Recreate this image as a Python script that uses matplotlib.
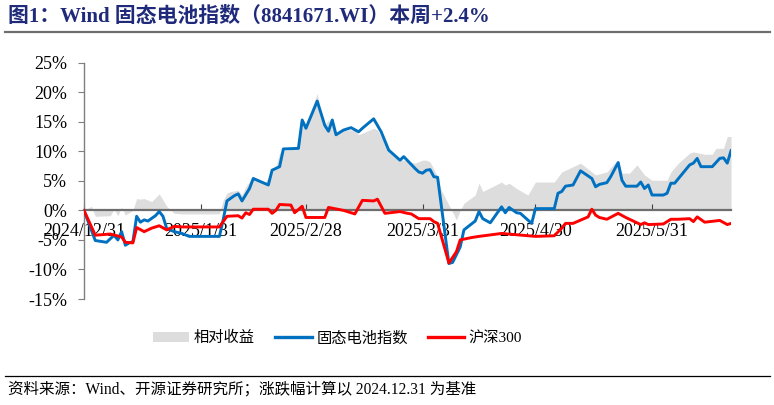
import matplotlib

matplotlib.use("Agg")
import matplotlib.pyplot as plt
import pandas as pd
from matplotlib.lines import Line2D
from matplotlib.patches import Patch

SERIF_CJK = ["Liberation Serif", "Noto Sans CJK SC"]
plt.rcParams["font.family"] = SERIF_CJK

TITLE = "图1：Wind 固态电池指数（8841671.WI）本周+2.4%"
SOURCE = "资料来源：Wind、开源证券研究所；涨跌幅计算以 2024.12.31 为基准"

# 固态电池指数 (%)
idx_dates = [
    "2024-12-31", "2025-01-03", "2025-01-06", "2025-01-08", "2025-01-09", "2025-01-10",
    "2025-01-11", "2025-01-12", "2025-01-13", "2025-01-14", "2025-01-15", "2025-01-16",
    "2025-01-17", "2025-01-19", "2025-01-20", "2025-01-21", "2025-01-22", "2025-01-24",
    "2025-01-26", "2025-01-28", "2025-02-05", "2025-02-06", "2025-02-07", "2025-02-09",
    "2025-02-10", "2025-02-11", "2025-02-13", "2025-02-14", "2025-02-18", "2025-02-19",
    "2025-02-21", "2025-02-22", "2025-02-26", "2025-02-27", "2025-02-28", "2025-03-03",
    "2025-03-05", "2025-03-06", "2025-03-07", "2025-03-08", "2025-03-10", "2025-03-12",
    "2025-03-14", "2025-03-15", "2025-03-18", "2025-03-20", "2025-03-22", "2025-03-25",
    "2025-03-26", "2025-03-29", "2025-03-30", "2025-03-31", "2025-04-01", "2025-04-02",
    "2025-04-03", "2025-04-04", "2025-04-07", "2025-04-08", "2025-04-10", "2025-04-11",
    "2025-04-14", "2025-04-15", "2025-04-16", "2025-04-18", "2025-04-21", "2025-04-22",
    "2025-04-23", "2025-04-25", "2025-04-26", "2025-04-29", "2025-04-30", "2025-05-05",
    "2025-05-06", "2025-05-07", "2025-05-08", "2025-05-10", "2025-05-12", "2025-05-15",
    "2025-05-16", "2025-05-17", "2025-05-19", "2025-05-20", "2025-05-22", "2025-05-23",
    "2025-05-24", "2025-05-27", "2025-05-28", "2025-05-29", "2025-05-30", "2025-05-31",
    "2025-06-03", "2025-06-04", "2025-06-05", "2025-06-06", "2025-06-10", "2025-06-11",
    "2025-06-12", "2025-06-13", "2025-06-16", "2025-06-18", "2025-06-19", "2025-06-20",
    "2025-06-21",
]
idx_vals = [
    0.0, -5.1, -5.4, -4.2, -5.0, -3.6,
    -5.9, -5.5, -5.3, -1.0, -2.0, -1.6,
    -1.8, -0.9, -0.2, -1.0, -3.1, -3.6,
    -3.9, -4.4, -4.4, -1.6, 1.6, 2.5,
    2.8, 1.6, 3.7, 5.4, 4.3, 6.8,
    7.4, 10.4, 10.5, 15.3, 13.9, 18.5,
    14.4, 13.4, 15.3, 12.8, 13.6, 14.0,
    13.3, 13.9, 15.5, 13.3, 10.2, 8.5,
    9.1, 7.1, 6.5, 6.3, 6.8, 6.9,
    5.7, 5.6, -9.0, -8.8, -6.2, -3.3,
    -1.8, -0.2, -1.4, -2.1, 0.6, -0.4,
    0.5, -0.4, -0.5, -2.2, 0.3, 0.3,
    2.9, 3.2, 4.1, 4.3, 6.7, 5.4,
    4.0, 4.4, 4.7, 5.7, 8.1, 5.1,
    4.1, 4.1, 4.8, 3.7, 4.3, 2.6,
    2.6, 2.9, 4.6, 4.6, 7.7, 8.0,
    8.8, 7.4, 7.4, 8.8, 8.9, 8.0,
    10.1,
]

# 沪深300 (%)
hs_dates = [
    "2024-12-31", "2025-01-03", "2025-01-07", "2025-01-10", "2025-01-11", "2025-01-13",
    "2025-01-14", "2025-01-16", "2025-01-18", "2025-01-20", "2025-01-22", "2025-01-24",
    "2025-01-26", "2025-02-05", "2025-02-07", "2025-02-10", "2025-02-11", "2025-02-12",
    "2025-02-13", "2025-02-14", "2025-02-18", "2025-02-19", "2025-02-20", "2025-02-21",
    "2025-02-24", "2025-02-25", "2025-02-27", "2025-02-28", "2025-03-05", "2025-03-06",
    "2025-03-10", "2025-03-13", "2025-03-15", "2025-03-18", "2025-03-19", "2025-03-21",
    "2025-03-25", "2025-03-27", "2025-03-28", "2025-03-30", "2025-04-02", "2025-04-03",
    "2025-04-04", "2025-04-07", "2025-04-09", "2025-04-10", "2025-04-13", "2025-04-15",
    "2025-04-21", "2025-04-30", "2025-05-05", "2025-05-07", "2025-05-08", "2025-05-10",
    "2025-05-14", "2025-05-15", "2025-05-16", "2025-05-17", "2025-05-19", "2025-05-22",
    "2025-05-24", "2025-05-26", "2025-05-28", "2025-05-29", "2025-05-30", "2025-06-03",
    "2025-06-05", "2025-06-07", "2025-06-10", "2025-06-11", "2025-06-12", "2025-06-14",
    "2025-06-18", "2025-06-20", "2025-06-21",
]
hs_vals = [
    0.0, -4.2, -4.0, -4.5, -5.4, -5.5,
    -2.9, -3.6, -3.0, -2.6, -3.3, -2.7,
    -2.8, -2.8, -1.0, -0.9, -1.3, -0.4,
    -0.7, 0.2, 0.2, -0.5, 0.0, 1.0,
    0.9, -0.4, 0.7, -1.2, -1.2, 0.5,
    0.0, -0.6, 1.7, 1.6, 1.9, -0.5,
    -0.2, -0.5, -0.6, -1.4, -1.4, -1.9,
    -2.2, -8.9, -7.0, -5.0, -4.6, -4.4,
    -3.9, -4.4, -4.3, -3.0, -2.2, -2.2,
    -1.1, 0.2, -0.8, -1.2, -1.5, -0.5,
    -1.2, -1.8, -2.4, -2.1, -2.4, -2.3,
    -1.5, -1.5, -1.4, -1.9, -1.1, -2.0,
    -1.7, -2.4, -2.2,
]

# 相对收益 (%)
rel_dates = [
    "2024-12-31", "2025-01-02", "2025-01-03", "2025-01-07", "2025-01-08", "2025-01-09",
    "2025-01-10", "2025-01-11", "2025-01-13", "2025-01-14", "2025-01-15", "2025-01-16",
    "2025-01-18", "2025-01-20", "2025-01-22", "2025-01-24", "2025-01-26", "2025-02-05",
    "2025-02-06", "2025-02-07", "2025-02-08", "2025-02-10", "2025-02-11", "2025-02-12",
    "2025-02-14", "2025-02-17", "2025-02-20", "2025-02-21", "2025-02-22", "2025-02-26",
    "2025-02-27", "2025-02-28", "2025-03-03", "2025-03-04", "2025-03-05", "2025-03-06",
    "2025-03-08", "2025-03-11", "2025-03-13", "2025-03-14", "2025-03-18", "2025-03-19",
    "2025-03-21", "2025-03-22", "2025-03-24", "2025-03-26", "2025-03-29", "2025-03-31",
    "2025-04-01", "2025-04-02", "2025-04-04", "2025-04-05", "2025-04-07", "2025-04-09",
    "2025-04-10", "2025-04-11", "2025-04-14", "2025-04-15", "2025-04-16", "2025-04-21",
    "2025-04-22", "2025-04-23", "2025-04-25", "2025-04-28", "2025-04-30", "2025-05-05",
    "2025-05-07", "2025-05-09", "2025-05-12", "2025-05-16", "2025-05-19", "2025-05-21",
    "2025-05-22", "2025-05-23", "2025-05-25", "2025-05-27", "2025-05-29", "2025-05-31",
    "2025-06-04", "2025-06-05", "2025-06-07", "2025-06-10", "2025-06-11", "2025-06-14",
    "2025-06-16", "2025-06-17", "2025-06-19", "2025-06-20", "2025-06-21",
]
rel_vals = [
    0.0, 0.7, -1.0, -0.9, 0.2, -0.9,
    0.6, -0.8, 0.0, 2.0, 1.9, 2.0,
    1.5, 2.8, 0.7, -0.5, -0.6, -0.6,
    1.7, 2.9, 3.2, 3.4, 2.6, 4.0,
    5.7, 4.6, 7.4, 9.7, 10.1, 10.5,
    15.6, 14.5, 19.8, 16.2, 14.5, 15.3,
    13.3, 13.6, 13.6, 12.8, 13.9, 13.6,
    11.4, 9.9, 8.8, 8.5, 8.0, 8.5,
    8.5, 8.2, 5.7, 3.4, 0.9, -1.6,
    0.0, 1.2, 2.6, 4.6, 3.2, 4.8,
    4.3, 4.6, 3.7, 2.6, 4.8, 4.8,
    6.5, 7.1, 8.0, 6.0, 6.5, 8.0,
    8.0, 6.3, 6.3, 7.7, 6.0, 5.1,
    5.1, 6.5, 8.0, 9.7, 9.9, 9.5,
    9.5, 10.5, 10.5, 12.5, 12.5,
]

tick_dates = ["2024-12-31", "2025-01-31", "2025-02-28", "2025-03-31", "2025-04-30", "2025-05-31"]
tick_labels = ["2024/12/31", "2025/1/31", "2025/2/28", "2025/3/31", "2025/4/30", "2025/5/31"]
y_ticks = [-15, -10, -5, 0, 5, 10, 15, 20, 25]

BLUE = "#0070C0"
RED = "#FF0000"
GREY = "#DDDDDD"
AXIS = "#7F7F7F"

fig = plt.figure(figsize=(7.74, 4.05), dpi=100)
ax = fig.add_axes([0.1085, 0.2617, 0.836, 0.5835])

idx_x = pd.to_datetime(idx_dates)
hs_x = pd.to_datetime(hs_dates)
rel_x = pd.to_datetime(rel_dates)

ax.fill_between(rel_x, 0, rel_vals, color=GREY, lw=0, zorder=1)
ax.plot(idx_x, idx_vals, color=BLUE, lw=2.1, zorder=3)
ax.plot(hs_x, hs_vals, color=RED, lw=2.1, zorder=4)

ax.set_xlim(pd.Timestamp("2024-12-31"), pd.Timestamp("2025-06-21"))
ax.set_ylim(-15, 25)

ax.set_xticks(pd.to_datetime(tick_dates))
ax.set_xticklabels(tick_labels)
ax.set_yticks(y_ticks)
ax.set_yticklabels([f"{v}%" for v in y_ticks])

for s in ("top", "right"):
    ax.spines[s].set_visible(False)
ax.spines["bottom"].set_position(("data", 0))
ax.spines["bottom"].set_color("#6E6E6E")
ax.spines["bottom"].set_linewidth(1.6)
ax.spines["bottom"].set_zorder(2)
ax.spines["left"].set_color(AXIS)
ax.spines["left"].set_linewidth(1.0)

ax.tick_params(axis="x", direction="in", length=4, color="#404040", pad=9,
               labelsize=13)
ax.tick_params(axis="y", direction="out", length=4, color=AXIS, pad=8,
               labelsize=13)
ax.set_facecolor("none")

handles = [
    Patch(fc=GREY, ec="none", label="相对收益"),
    Line2D([], [], color=BLUE, lw=2.4, label="固态电池指数"),
    Line2D([], [], color=RED, lw=2.4, label="沪深300"),
]
fig.legend(handles=handles, loc="center", bbox_to_anchor=(0.436, 0.165), ncol=3,
           frameon=False, fontsize=11, handlelength=2.4, handletextpad=0.3,
           columnspacing=1.3)

fig.text(0.0103, 0.958, TITLE, fontsize=15, fontweight="bold", color="#1F2A7A",
         va="center", ha="left")
fig.add_artist(Line2D([0.006, 0.995], [0.922, 0.922], transform=fig.transFigure,
                      color="#6E6E6E", lw=1.6))
fig.add_artist(Line2D([0.006, 0.995], [0.0716, 0.0716], transform=fig.transFigure,
                      color="black", lw=0.9))
fig.text(0.0103, 0.037, SOURCE, fontsize=11.2, color="black", va="center", ha="left")

fig.savefig("out.png", dpi=100)
plt.close(fig)
